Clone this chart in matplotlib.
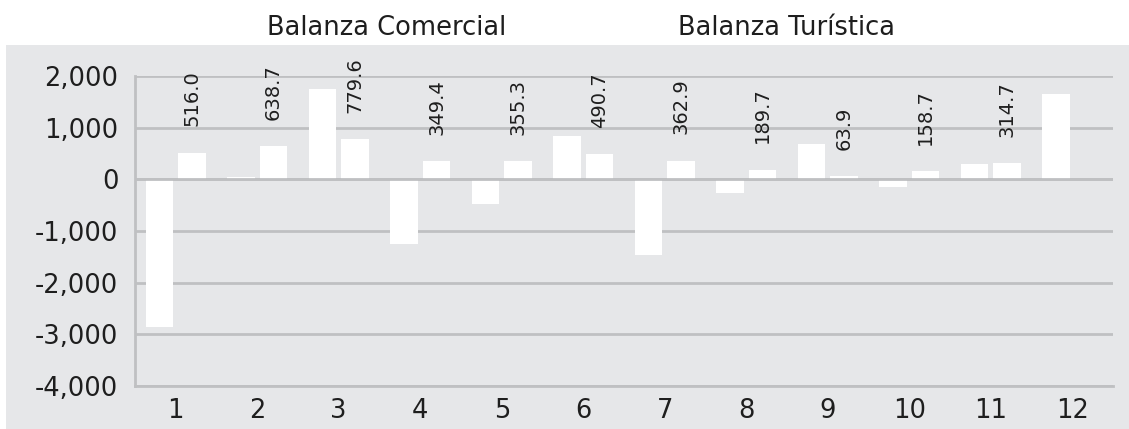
import numpy as np
import matplotlib.pyplot as plt
from matplotlib.patches import Rectangle, Patch
from matplotlib.ticker import FuncFormatter

C_BG, C_GRID, C_INK = '#e6e7e9', '#bfc0c2', '#1e1e1e'

plt.rcParams.update({
    'font.family': ['DejaVu Sans'],
    'text.color': C_INK,
})

months = np.arange(1, 13)
month_labels = [str(m) for m in months]
comercial = [-2860, 45, 1750, -1255, -480, 835, -1460, -268, 680, -150, 300, 1660]
turistica = [516.0, 638.7, 779.6, 349.4, 355.3, 490.7, 362.9, 189.7, 63.9, 158.7, 314.7, np.nan]
series_names = ['Balanza Comercial', 'Balanza Turística']

fig = plt.figure(figsize=(11.29, 4.29), dpi=100)
fig.patches.append(Rectangle((6 / 1129, 0), 1, (429 - 45) / 429, transform=fig.transFigure,
                             facecolor=C_BG, edgecolor='none', zorder=-1))

ax = fig.add_axes([135 / 1129, 1 - 386 / 429, (1113 - 135) / 1129, (386 - 76) / 429])
ax.set_facecolor('none')

w = 0.335
off = 0.2
ax.bar(months - off, comercial, w, color='white', zorder=2)
ax.bar(months + off, turistica, w, color='white', zorder=2)

for m, v in zip(months, turistica):
    if np.isnan(v):
        continue
    ax.annotate(f'{v:.1f}', (m + off, v), xytext=(0, 19), textcoords='offset points',
                rotation=90, ha='center', va='bottom', fontsize=14, color=C_INK)

ax.set_xlim(0.5, 12.5)
ax.set_ylim(-4000, 2000)
ax.set_yticks(np.arange(-4000, 2001, 1000))
ax.yaxis.set_major_formatter(FuncFormatter(lambda v, p: f'{v:,.0f}'))
ax.set_xticks(months)
ax.set_xticklabels(month_labels)
ax.tick_params(length=0, labelsize=18.5, colors=C_INK)
ax.tick_params(axis='y', pad=12)
ax.tick_params(axis='x', pad=9)

ax.grid(axis='y', color=C_GRID, lw=2, zorder=1)
ax.axhline(0, color=C_GRID, lw=2, zorder=3)
for s in ['top', 'right']:
    ax.spines[s].set_visible(False)
for s in ['left', 'bottom']:
    ax.spines[s].set_color(C_GRID)
    ax.spines[s].set_linewidth(2)

handles = [Patch(facecolor='white', edgecolor='none', label=n) for n in series_names]
fig.legend(handles=handles, loc='center', bbox_to_anchor=(0.502, 0.935), ncol=2,
           frameon=False, fontsize=18.5, handlelength=0.7, handletextpad=0.4,
           columnspacing=5.6)

fig.savefig('out.png', dpi=100)
